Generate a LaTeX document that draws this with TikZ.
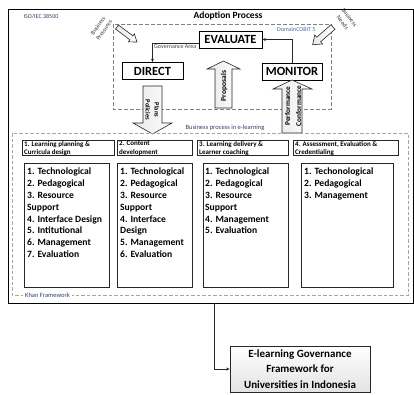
\documentclass[tikz,border=0pt]{standalone}
\usepackage{fontspec}
\setmainfont{Carlito}
\usetikzlibrary{arrows.meta}
\definecolor{labelblue}{HTML}{2E3F66}
\definecolor{cobitblue}{HTML}{4A6A9E}
\definecolor{khangreen}{HTML}{9DAE8E}
\definecolor{dashgray}{HTML}{808080}
\begin{document}
\begin{tikzpicture}[x=1pt,y=-1pt,
  govbox/.style={draw=black, line width=0.8pt, fill=white, inner sep=0pt,
    font=\bfseries\fontsize{12.5}{14}\selectfont},
  conn/.style={draw=black!85, line width=0.6pt, -{Stealth[length=3.5pt,width=3pt]}},
  blockarrow/.style={draw=black!85, line width=0.6pt, left color=gray!18, right color=white},
  arrowtext/.style={font=\bfseries\fontsize{7.5}{8}\selectfont, align=center, inner sep=0pt},
  smalltext/.style={font=\fontsize{6}{7.5}\selectfont, inner sep=0pt},
  hdrbox/.style={draw=black!85, line width=0.6pt, anchor=north west, minimum height=15pt, inner sep=0pt},
  hdrtext/.style={anchor=north west, align=left, inner sep=0pt, font=\bfseries\fontsize{7}{8.5}\selectfont},
  listbox/.style={draw=black!85, line width=0.7pt, anchor=north west, minimum height=124pt, inner sep=0pt},
  listtext/.style={anchor=north west, align=left, inner sep=0pt, font=\bfseries\fontsize{9.6}{11.8}\selectfont},
  framebox/.style={draw=black, line width=0.8pt}
]
\useasboundingbox (0,0) rectangle (414,394);

% outer ISO frame
\draw[framebox] (8,9) rectangle (413,303);
\node[smalltext, text=labelblue] (iso) at (41,17) {ISO/IEC 38500};
\node[font=\bfseries\fontsize{9.5}{11}\selectfont, inner sep=0pt] (adopt) at (228,16) {Adoption Process};

% COBIT domain dashed box
\draw[dashgray, dash pattern=on 4pt off 2pt, line width=0.6pt] (113,24) rectangle (331,109);
\node[smalltext, text=cobitblue, anchor=west] (cobit) at (277,29) {DomainCOBIT 5};

% governance area label (behind evaluate box)
\node[smalltext, text=black!75, anchor=north west] (govarea) at (154,44.5) {Governance Area};

% governance boxes
\node[govbox, minimum width=63pt, minimum height=17pt] (evaluate) at (230.5,39.5) {EVALUATE};
\node[govbox, minimum width=61pt, minimum height=17pt] (direct) at (152.5,71) {DIRECT};
\node[govbox, minimum width=60pt, minimum height=17pt] (monitor) at (292,71.5) {MONITOR};

\draw[conn] ([yshift=-3.5pt]evaluate.west) -| (direct.north);
\draw[conn] (monitor.north) |- (evaluate.east);

% business pressures / needs
\node[smalltext, text=black!80, align=center, rotate=55] (pressures) at (101,28) {Business\\Pressures};
\begin{scope}[shift={(117,27)}, rotate=-37]
  \draw[blockarrow] (0,-2.5) -- (18,-2.5) -- (18,-5) -- (25,0) -- (18,5) -- (18,2.5) -- (0,2.5) -- cycle;
\end{scope}
\node[text=black!80, align=center, rotate=-52, inner sep=0pt, font=\fontsize{6}{8.5}\selectfont] (needs) at (346,20) {Business\\Needs};
\begin{scope}[shift={(333,27)}, rotate=-139]
  \draw[blockarrow] (0,-3) -- (19,-3) -- (19,-6) -- (27,0) -- (19,6) -- (19,3) -- (0,3) -- cycle;
\end{scope}

% Plans / Policies arrow (down)
\draw[blockarrow] (143,86) -- (162,86) -- (162,123) -- (172,123) -- (152.5,134) -- (133,123) -- (143,123) -- cycle;
\node[arrowtext, font=\bfseries\fontsize{6.5}{9}\selectfont, rotate=-90] (plans) at (152.5,110) {Plans\\Policies};

% Proposals arrow (up)
\draw[blockarrow] (215,108) -- (232,108) -- (232,69) -- (240,69) -- (223.5,61) -- (207,69) -- (215,69) -- cycle;
\node[arrowtext, rotate=90] (proposals) at (224,86) {Proposals};

% Performance / Conformance arrow (up)
\draw[blockarrow] (282,133) -- (302,133) -- (302,89) -- (312,89) -- (292,80) -- (273,89) -- (282,89) -- cycle;
\node[arrowtext, font=\bfseries\fontsize{7.3}{11}\selectfont, rotate=90] (perf) at (293,106) {Performance\\Conformance};

% Khan framework dashed box
\draw[khangreen, dash pattern=on 3.5pt off 2pt, line width=0.6pt] (12,133) rectangle (408,295);
\node[smalltext, text=labelblue, font=\fontsize{6.5}{7}\selectfont] (bp) at (225,127.5) {Business process in e-learning};
\node[smalltext, text=labelblue, fill=white, inner xsep=2pt, inner ysep=1pt, anchor=west, font=\fontsize{6.5}{7}\selectfont] (khan) at (23,295) {Khan Framework};

% header boxes
\node[hdrbox, minimum width=92pt] (h1) at (22,140) {};
\node[hdrbox, minimum width=75pt] (h2) at (117,140) {};
\node[hdrbox, minimum width=91pt] (h3) at (197,140) {};
\node[hdrbox, minimum width=105pt] (h4) at (293,140) {};
\node[hdrtext] (t1) at (24,141) {1. Learning planning \&\\Curricula design};
\node[hdrtext] (t2) at (119,141) {2. Content\\development};
\node[hdrtext] (t3) at (199,141) {3. Learning delivery \&\\Learner coaching};
\node[hdrtext] (t4) at (295,141) {4. Assessment, Evaluation \&\\Credentialing};

% list boxes
\node[listbox, minimum width=85pt] (b1) at (24,163) {};
\node[listbox, minimum width=75pt] (b2) at (117,163) {};
\node[listbox, minimum width=85pt] (b3) at (203,163) {};
\node[listbox, minimum width=92pt] (b4) at (301,163) {};
\node[listtext] (l1) at (27,168) {1. Technological\\2. Pedagogical\\3. Resource\\Support\\4. Interface Design\\5. Intitutional\\6. Management\\7. Evaluation};
\node[listtext] (l2) at (120,168) {1. Technological\\2. Pedagogical\\3. Resource\\Support\\4. Interface\\Design\\5. Management\\6. Evaluation};
\node[listtext] (l3) at (205,168) {1. Technological\\2. Pedagogical\\3. Resource\\Support\\4. Management\\5. Evaluation};
\node[listtext] (l4) at (304,168) {1. Techonological\\2. Pedagogical\\3. Management};

% output
\coordinate (outbot) at (214,303);
\node[draw=black!85, line width=0.7pt, top color=white, bottom color=gray!22,
      minimum width=140pt, minimum height=46pt, inner sep=0pt, align=center,
      font=\bfseries\fontsize{11}{15.5}\selectfont] (final) at (300,369)
      {E-learning Governance\\Framework for\\Universities in Indonesia};
\draw[conn] (outbot) |- (final.west);
\end{tikzpicture}
\end{document}
